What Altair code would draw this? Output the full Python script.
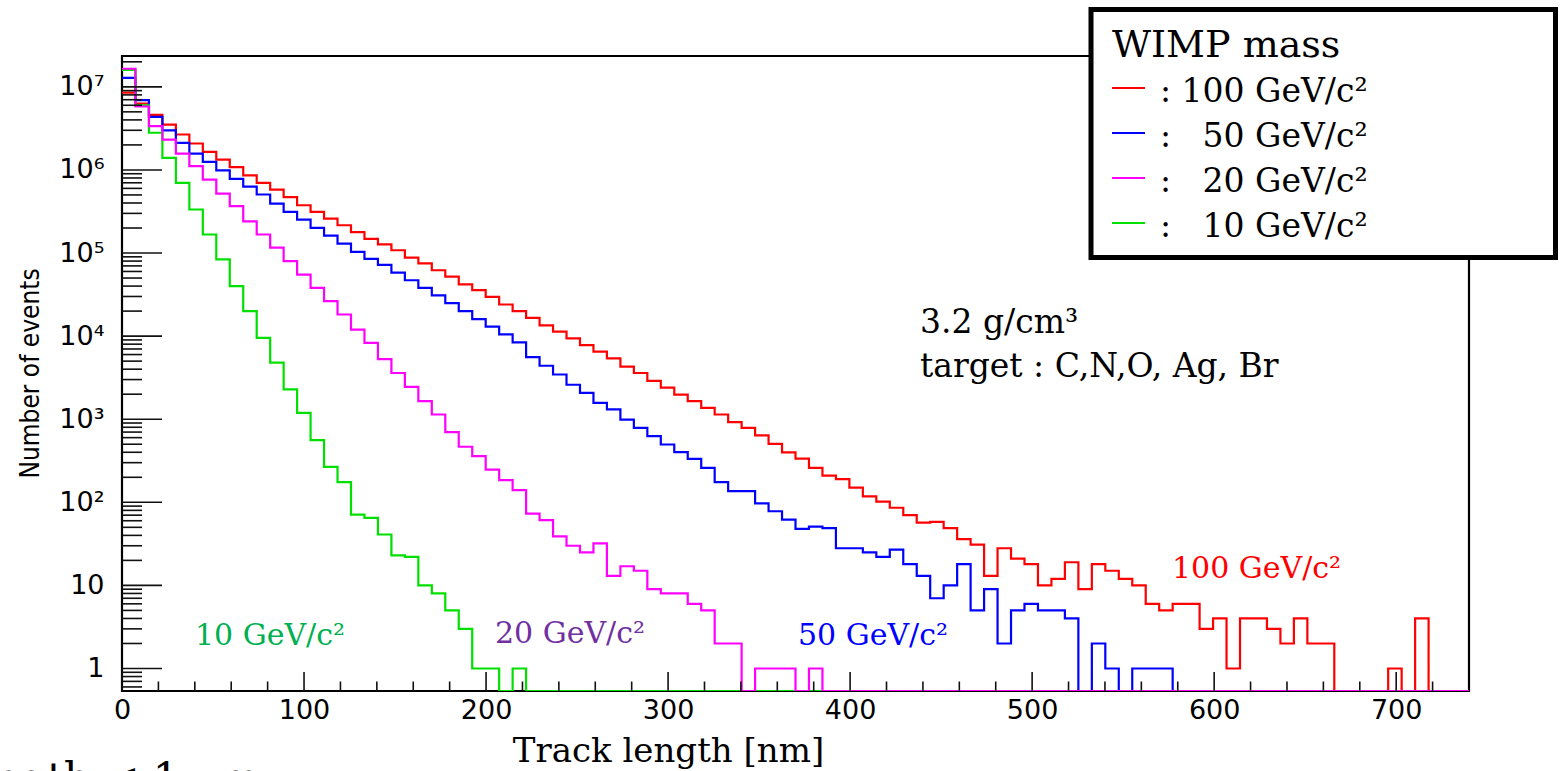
import altair as alt
import pandas as pd

# ---------------- data (bin contents, 100 bins of 7.4 nm from 0 to 740 nm) -------------
BIN_WIDTH = 7.4
X_MAX = 740
Y_MIN = 0.536
Y_MAX = 2.35e7

red_100 = [8.5e6, 6.3e6, 4.6e6, 3.5e6, 2.67e6, 2.08e6, 1.65e6, 1.33e6, 1.08e6, 8.6e5,
           7.0e5, 5.8e5, 4.7e5, 3.76e5, 3.13e5, 2.6e5, 2.16e5, 1.78e5, 1.48e5, 1.27e5,
           1.08e5, 8.8e4, 7.5e4, 6.2e4, 5.2e4, 4.2e4, 3.57e4, 2.97e4, 2.4e4, 2.0e4,
           1.66e4, 1.35e4, 1.13e4, 9.4e3, 7.8e3, 6.5e3, 5.4e3, 4.3e3, 3.6e3, 2.9e3,
           2.4e3, 1.98e3, 1.65e3, 1.37e3, 1.14e3, 920, 787, 640, 505, 400,
           335, 260, 210, 190, 150, 118, 102, 86, 70, 57,
           58, 49, 36, 31, 13, 28, 21, 18, 10, 12,
           19, 9, 18, 15, 12, 10, 6, 5, 6, 6,
           3, 4, 1, 4, 4, 3, 2, 4, 2, 2,
           0, 0, 0, 0, 1, 0, 4, 0, 0, 0]

blue_50 = [1.28e7, 6.9e6, 4.35e6, 3.0e6, 2.12e6, 1.57e6, 1.25e6, 9.9e5, 7.8e5, 6.3e5,
           5.06e5, 3.94e5, 3.13e5, 2.53e5, 2.01e5, 1.62e5, 1.3e5, 1.03e5, 8.5e4, 7.2e4,
           5.8e4, 4.7e4, 3.8e4, 3.1e4, 2.5e4, 2.0e4, 1.6e4, 1.3e4, 1.05e4, 8.4e3,
           5.6e3, 4.4e3, 3.45e3, 2.6e3, 2.08e3, 1.57e3, 1.31e3, 991, 788, 625,
           496, 401, 333, 260, 175, 136, 136, 97, 78, 62,
           48, 51, 49, 28, 28, 25, 22, 27, 18, 13,
           7, 10, 18, 5, 9, 2, 5, 6, 5, 5,
           4, 0, 2, 1, 0, 1, 1, 1, 0, 0,
           0, 0, 0, 0, 0, 0, 0, 0, 0, 0,
           0, 0, 0, 0, 0, 0, 0, 0, 0, 0]

magenta_20 = [1.65e7, 5.8e6, 3.36e6, 2.32e6, 1.57e6, 1.11e6, 7.66e5, 5.2e5, 3.66e5, 2.4e5,
              1.67e5, 1.16e5, 7.97e4, 5.5e4, 3.8e4, 2.63e4, 1.82e4, 1.2e4, 8.3e3, 5.3e3,
              3.6e3, 2.45e3, 1.65e3, 1.14e3, 698, 466, 359, 248, 185, 140,
              73, 61, 39, 30, 25, 32, 13, 17, 15, 9,
              8, 8, 6, 5, 2, 2, 0, 1, 1, 1,
              0, 1, 0, 0, 0, 0, 0, 0, 0, 0,
              0, 0, 0, 0, 0, 0, 0, 0, 0, 0,
              0, 0, 0, 0, 0, 0, 0, 0, 0, 0,
              0, 0, 0, 0, 0, 0, 0, 0, 0, 0,
              0, 0, 0, 0, 0, 0, 0, 0, 0, 0]

green_10 = [1.6e7, 6.0e6, 2.8e6, 1.4e6, 7.0e5, 3.34e5, 1.67e5, 8.4e4, 4.0e4, 2.0e4,
            9.5e3, 4.8e3, 2.28e3, 1.19e3, 559, 267, 175, 71, 65, 41,
            23, 22, 10, 8, 5, 3, 1, 1, 0, 1,
            0, 0, 0, 0, 0, 0, 0, 0, 0, 0,
            0, 0, 0, 0, 0, 0, 0, 0, 0, 0,
            0, 0, 0, 0, 0, 0, 0, 0, 0, 0,
            0, 0, 0, 0, 0, 0, 0, 0, 0, 0,
            0, 0, 0, 0, 0, 0, 0, 0, 0, 0,
            0, 0, 0, 0, 0, 0, 0, 0, 0, 0,
            0, 0, 0, 0, 0, 0, 0, 0, 0, 0]

series_names = ["100 GeV/c²", "50 GeV/c²", "20 GeV/c²", "10 GeV/c²"]
series_values = [red_100, blue_50, magenta_20, green_10]
series_colors = ["#ff0000", "#0000ff", "#ff00ff", "#00e000"]
label_colors = ["#ff0000", "#0000ff", "#7030a0", "#00b050"]
legend_texts = [": 100 GeV/c²", ": \u200750 GeV/c²", ": \u200720 GeV/c²", ": \u200710 GeV/c²"]
draw_order = [0, 1, 3, 2]   # red, blue, green, then magenta on top (as in the reference)

x_major = [0, 100, 200, 300, 400, 500, 600, 700]
x_minor = [v for v in range(20, 740, 20) if v % 100 != 0]
y_major = [1, 10, 100, 1e3, 1e4, 1e5, 1e6, 1e7]
y_minor = [0.6, 0.7, 0.8, 0.9] + [m * d for d in [1, 10, 100, 1e3, 1e4, 1e5, 1e6] for m in range(2, 10)] + [2e7]

# ---------------- geometry ----------------
W, H = 1347, 635
PAD_L, PAD_T = 122, 56
SANS = "DejaVu Sans"
SERIF = "DejaVu Serif"

xscale = alt.Scale(domain=[0, X_MAX], nice=False, zero=False)
yscale = alt.Scale(type="log", domain=[Y_MIN, Y_MAX], nice=False)

xaxis = alt.Axis(values=x_major, ticks=False, domain=False, grid=False,
                 labelFont=SANS, labelFontSize=27, labelColor="black", labelPadding=6,
                 labelFlush=False,
                 title="Track length [nm]", titleFont=SERIF, titleFontSize=34,
                 titleFontWeight="normal", titleColor="black",
                 titleX=546, titleY=70, titleAlign="center", titleBaseline="alphabetic")
yaxis = alt.Axis(values=y_major, ticks=False, domain=False, grid=False,
                 labelFont=SANS, labelFontSize=27, labelColor="black", labelPadding=18,
                 labelExpr="datum.value < 50 ? format(datum.value, 'd') : '10' + ['', '¹', '²', '³', '⁴', '⁵', '⁶', '⁷'][round(log(datum.value) / LN10)]",
                 title="Number of events", titleFont="Liberation Sans Narrow, DejaVu Sans Condensed, Liberation Sans",
                 titleFontSize=26, titleFontWeight="normal", titleColor="black",
                 titleX=-92, titleY=317, titleAngle=-90, titleAlign="center", titleBaseline="middle")

layers = []

# histogram step lines
for k in draw_order:
    name, vals, col = series_names[k], series_values[k], series_colors[k]
    rows = []
    for i in range(len(vals) + 1):
        v = vals[min(i, len(vals) - 1)]
        rows.append({"x": i * BIN_WIDTH, "y": v if v > 0 else Y_MIN, "mass": name})
    df = pd.DataFrame(rows)
    layers.append(
        alt.Chart(df).mark_line(interpolate="step-after", color=col, strokeWidth=2.2, clip=True)
        .encode(x=alt.X("x:Q", scale=xscale, axis=xaxis), y=alt.Y("y:Q", scale=yscale, axis=yaxis))
    )

# inward ticks (ROOT style)
tick_col = "#111111"
layers.append(alt.Chart(pd.DataFrame({"y": y_major})).mark_rule(color=tick_col, strokeWidth=1.6)
              .encode(y=alt.Y("y:Q", scale=yscale, axis=yaxis), x=alt.value(0), x2=alt.value(40)))
layers.append(alt.Chart(pd.DataFrame({"y": y_minor})).mark_rule(color=tick_col, strokeWidth=1.6)
              .encode(y=alt.Y("y:Q", scale=yscale, axis=yaxis), x=alt.value(0), x2=alt.value(20)))
layers.append(alt.Chart(pd.DataFrame({"x": x_major})).mark_rule(color=tick_col, strokeWidth=1.6)
              .encode(x=alt.X("x:Q", scale=xscale, axis=xaxis), y=alt.value(H), y2=alt.value(H - 19)))
layers.append(alt.Chart(pd.DataFrame({"x": x_minor})).mark_rule(color=tick_col, strokeWidth=1.6)
              .encode(x=alt.X("x:Q", scale=xscale, axis=xaxis), y=alt.value(H), y2=alt.value(H - 9.5)))


def text_layer(txt, x, y, size, color="black", font=SERIF, align="left"):
    return (alt.Chart(pd.DataFrame({"t": [txt]}))
            .mark_text(font=font, fontSize=size, color=color, align=align, baseline="alphabetic")
            .encode(x=alt.value(x), y=alt.value(y), text="t:N"))


# in-plot annotations
layers.append(text_layer("3.2 g/cm³", 798, 277, 33))
layers.append(text_layer("target : C,N,O, Ag, Br", 798, 321, 33))
label_pos = [(1050, 522), (676, 589), (373, 587), (73, 589)]
for name, col, (lx, ly) in zip(series_names, label_colors, label_pos):
    layers.append(text_layer(name, lx, ly, 30, color=col))

# partially visible slide text at the bottom-left (cut by the picture edge, as in the reference)
layers.append(text_layer("Track length < 1 μm", 138, 737, 42, align="right"))

# legend box
layers.append(alt.Chart(pd.DataFrame({"a": [0]})).mark_rect(fill="white", stroke="black", strokeWidth=5)
              .encode(x=alt.value(969), x2=alt.value(1433.5), y=alt.value(-46.5), y2=alt.value(201.5)))
layers.append(text_layer("WIMP mass", 990, 1, 38))
for k, (lt, col) in enumerate(zip(legend_texts, series_colors)):
    ly = 32 + 45 * k
    layers.append(alt.Chart(pd.DataFrame({"a": [0]})).mark_rule(color=col, strokeWidth=2)
                  .encode(x=alt.value(990), x2=alt.value(1023), y=alt.value(ly)))
    layers.append(text_layer(lt, 1038, 46 + 45 * k, 33))

chart = (alt.layer(*layers)
         .properties(width=W, height=H, autosize=alt.AutoSizeParams(type="none"),
                     padding={"left": PAD_L, "top": PAD_T, "right": 1562 - PAD_L - W, "bottom": 771 - PAD_T - H})
         .configure(background="white", view=alt.ViewConfig(stroke="black", strokeWidth=2.2)))

chart.save("out.html", embed_options={"renderer": "svg", "actions": False})
